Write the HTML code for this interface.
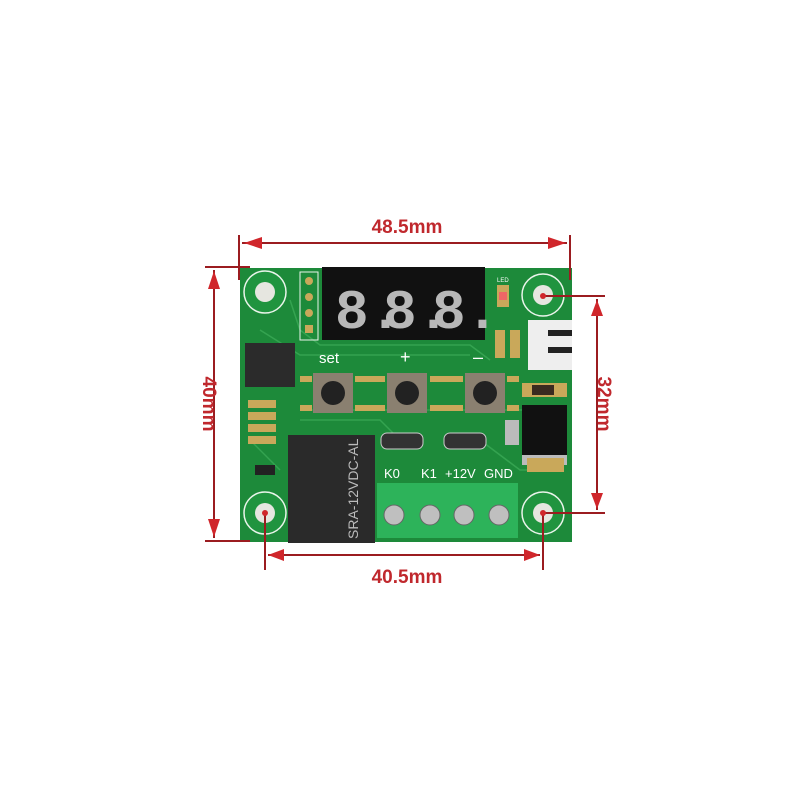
<!DOCTYPE html><html><head><style>body{margin:0;background:#fff}svg{display:block}</style></head><body>
<svg width="800" height="800" viewBox="0 0 800 800" xmlns="http://www.w3.org/2000/svg">
<rect width="800" height="800" fill="#fff"/>
<!-- board -->
<rect x="240" y="268" width="332" height="274" fill="#1d8a3a"/>
<g stroke="#3fae5a" stroke-width="1.5" fill="none" opacity=".7">
<path d="M290 300 L300 330 L320 345 L470 345 L490 360"/><path d="M260 330 L300 355 L470 355"/><path d="M300 410 L560 410"/><path d="M300 420 L380 420 L400 440"/><path d="M250 440 L280 470"/><path d="M480 440 L520 470 L560 470"/></g>
<!-- holes -->
<g>
<circle cx="265" cy="292" r="21" fill="#20943f" stroke="#e9f4ea" stroke-width="1.5"/><circle cx="265" cy="292" r="10" fill="#e6e6e0"/>
<circle cx="543" cy="295" r="21" fill="#20943f" stroke="#e9f4ea" stroke-width="1.5"/><circle cx="543" cy="295" r="10" fill="#e6e6e0"/>
<circle cx="265" cy="513" r="21" fill="#20943f" stroke="#e9f4ea" stroke-width="1.5"/><circle cx="265" cy="513" r="10" fill="#e6e6e0"/>
<circle cx="543" cy="513" r="21" fill="#20943f" stroke="#e9f4ea" stroke-width="1.5"/><circle cx="543" cy="513" r="10" fill="#e6e6e0"/>
</g>
<!-- header pins -->
<rect x="300" y="272" width="18" height="68" fill="none" stroke="#e9f4ea"/>
<g fill="#c9a85a"><circle cx="309" cy="281" r="4"/><circle cx="309" cy="297" r="4"/><circle cx="309" cy="313" r="4"/><rect x="305" y="325" width="8" height="8"/></g>
<!-- display -->
<rect x="322" y="267" width="163" height="73" fill="#111"/>
<g font-family="Liberation Mono,monospace" font-size="56" fill="#b8b8b8" font-weight="bold"><text x="335" y="328">8.</text><text x="383" y="328">8.</text><text x="432" y="328">8.</text></g>
<!-- LED etc -->
<text x="497" y="282" font-family="Liberation Sans,sans-serif" font-size="6" fill="#fff">LED</text>
<rect x="497" y="285" width="12" height="22" fill="#c9a85a"/><rect x="499" y="292" width="8" height="8" fill="#e66"/>
<rect x="495" y="330" width="10" height="28" fill="#c9a85a"/><rect x="510" y="330" width="10" height="28" fill="#c9a85a"/>
<rect x="528" y="320" width="44" height="50" fill="#eee"/><rect x="548" y="330" width="24" height="6" fill="#222"/><rect x="548" y="347" width="24" height="6" fill="#222"/>
<!-- IC -->
<rect x="245" y="343" width="50" height="44" fill="#2b2b2b"/>
<g font-family="Liberation Sans,sans-serif" fill="#fff"><text x="319" y="363" font-size="15">set</text><text x="400" y="363" font-size="18">+</text><text x="473" y="363" font-size="18">–</text></g>
<!-- buttons -->
<g><rect x="313" y="373" width="40" height="40" fill="#8a8070"/><circle cx="333" cy="393" r="12" fill="#222"/>
<rect x="387" y="373" width="40" height="40" fill="#8a8070"/><circle cx="407" cy="393" r="12" fill="#222"/>
<rect x="465" y="373" width="40" height="40" fill="#8a8070"/><circle cx="485" cy="393" r="12" fill="#222"/></g>
<g fill="#c9a85a"><rect x="300" y="376" width="12" height="6"/><rect x="300" y="405" width="12" height="6"/><rect x="355" y="376" width="30" height="6"/><rect x="355" y="405" width="30" height="6"/><rect x="430" y="376" width="33" height="6"/><rect x="430" y="405" width="33" height="6"/><rect x="507" y="376" width="12" height="6"/><rect x="507" y="405" width="12" height="6"/></g>
<!-- small parts left -->
<g fill="#c9a85a"><rect x="248" y="400" width="28" height="8"/><rect x="248" y="412" width="28" height="8"/><rect x="248" y="424" width="28" height="8"/><rect x="248" y="436" width="28" height="8"/></g>
<rect x="255" y="465" width="20" height="10" fill="#222"/>
<!-- right parts -->
<rect x="522" y="383" width="45" height="14" fill="#c9a85a"/><rect x="532" y="385" width="22" height="10" fill="#3a2a20"/>
<rect x="522" y="405" width="45" height="50" fill="#111"/><rect x="522" y="455" width="45" height="10" fill="#bbb"/>
<rect x="527" y="458" width="37" height="14" fill="#c9a85a"/>
<rect x="505" y="420" width="14" height="25" fill="#bbb"/>
<!-- diodes -->
<rect x="381" y="433" width="42" height="16" rx="6" fill="#333" stroke="#ccc"/><rect x="444" y="433" width="42" height="16" rx="6" fill="#333" stroke="#ccc"/>
<!-- relay -->
<rect x="288" y="435" width="87" height="108" fill="#2a2a2a"/>
<text transform="translate(358,539) rotate(-90)" font-family="Liberation Sans,sans-serif" font-size="14" fill="#bbb">SRA-12VDC-AL</text>
<!-- terminal -->
<g font-family="Liberation Sans,sans-serif" font-size="13" fill="#fff"><text x="384" y="478">K0</text><text x="421" y="478">K1</text><text x="445" y="478">+12V</text><text x="484" y="478">GND</text></g>
<rect x="377" y="483" width="141" height="55" fill="#2db35a"/>
<g fill="#bfbfbf" stroke="#666"><circle cx="394" cy="515" r="10"/><circle cx="430" cy="515" r="10"/><circle cx="464" cy="515" r="10"/><circle cx="499" cy="515" r="10"/></g>
<!-- dimensions -->
<g stroke="#9b1c20" stroke-width="2" fill="none">
<line x1="239" y1="235" x2="239" y2="280"/><line x1="570" y1="235" x2="570" y2="280"/><line x1="242" y1="243" x2="567" y2="243"/>
<line x1="205" y1="267" x2="250" y2="267"/><line x1="205" y1="541" x2="250" y2="541"/><line x1="214" y1="270" x2="214" y2="538"/>
<line x1="545" y1="296" x2="605" y2="296"/><line x1="545" y1="513" x2="605" y2="513"/><line x1="597" y1="299" x2="597" y2="510"/>
<line x1="265" y1="513" x2="265" y2="570"/><line x1="543" y1="513" x2="543" y2="570"/><line x1="268" y1="555" x2="540" y2="555"/>
</g>
<g fill="#d0262b">
<polygon points="244,243 262,237 262,249"/><polygon points="566,243 548,237 548,249"/>
<polygon points="214,271 208,289 220,289"/><polygon points="214,537 208,519 220,519"/>
<polygon points="597,300 591,316 603,316"/><polygon points="597,509 591,493 603,493"/>
<polygon points="268,555 284,549 284,561"/><polygon points="540,555 524,549 524,561"/>
<circle cx="265" cy="513" r="3"/><circle cx="543" cy="513" r="3"/><circle cx="543" cy="296" r="3"/>
</g>
<g font-family="Liberation Sans,sans-serif" font-weight="bold" font-size="19" fill="#c0282d">
<text x="407" y="233" text-anchor="middle">48.5mm</text>
<text x="407" y="583" text-anchor="middle">40.5mm</text>
<text transform="translate(203,404) rotate(90)" text-anchor="middle">40mm</text>
<text transform="translate(598,404) rotate(90)" text-anchor="middle">32mm</text>
</g>
</svg>
</body></html>
